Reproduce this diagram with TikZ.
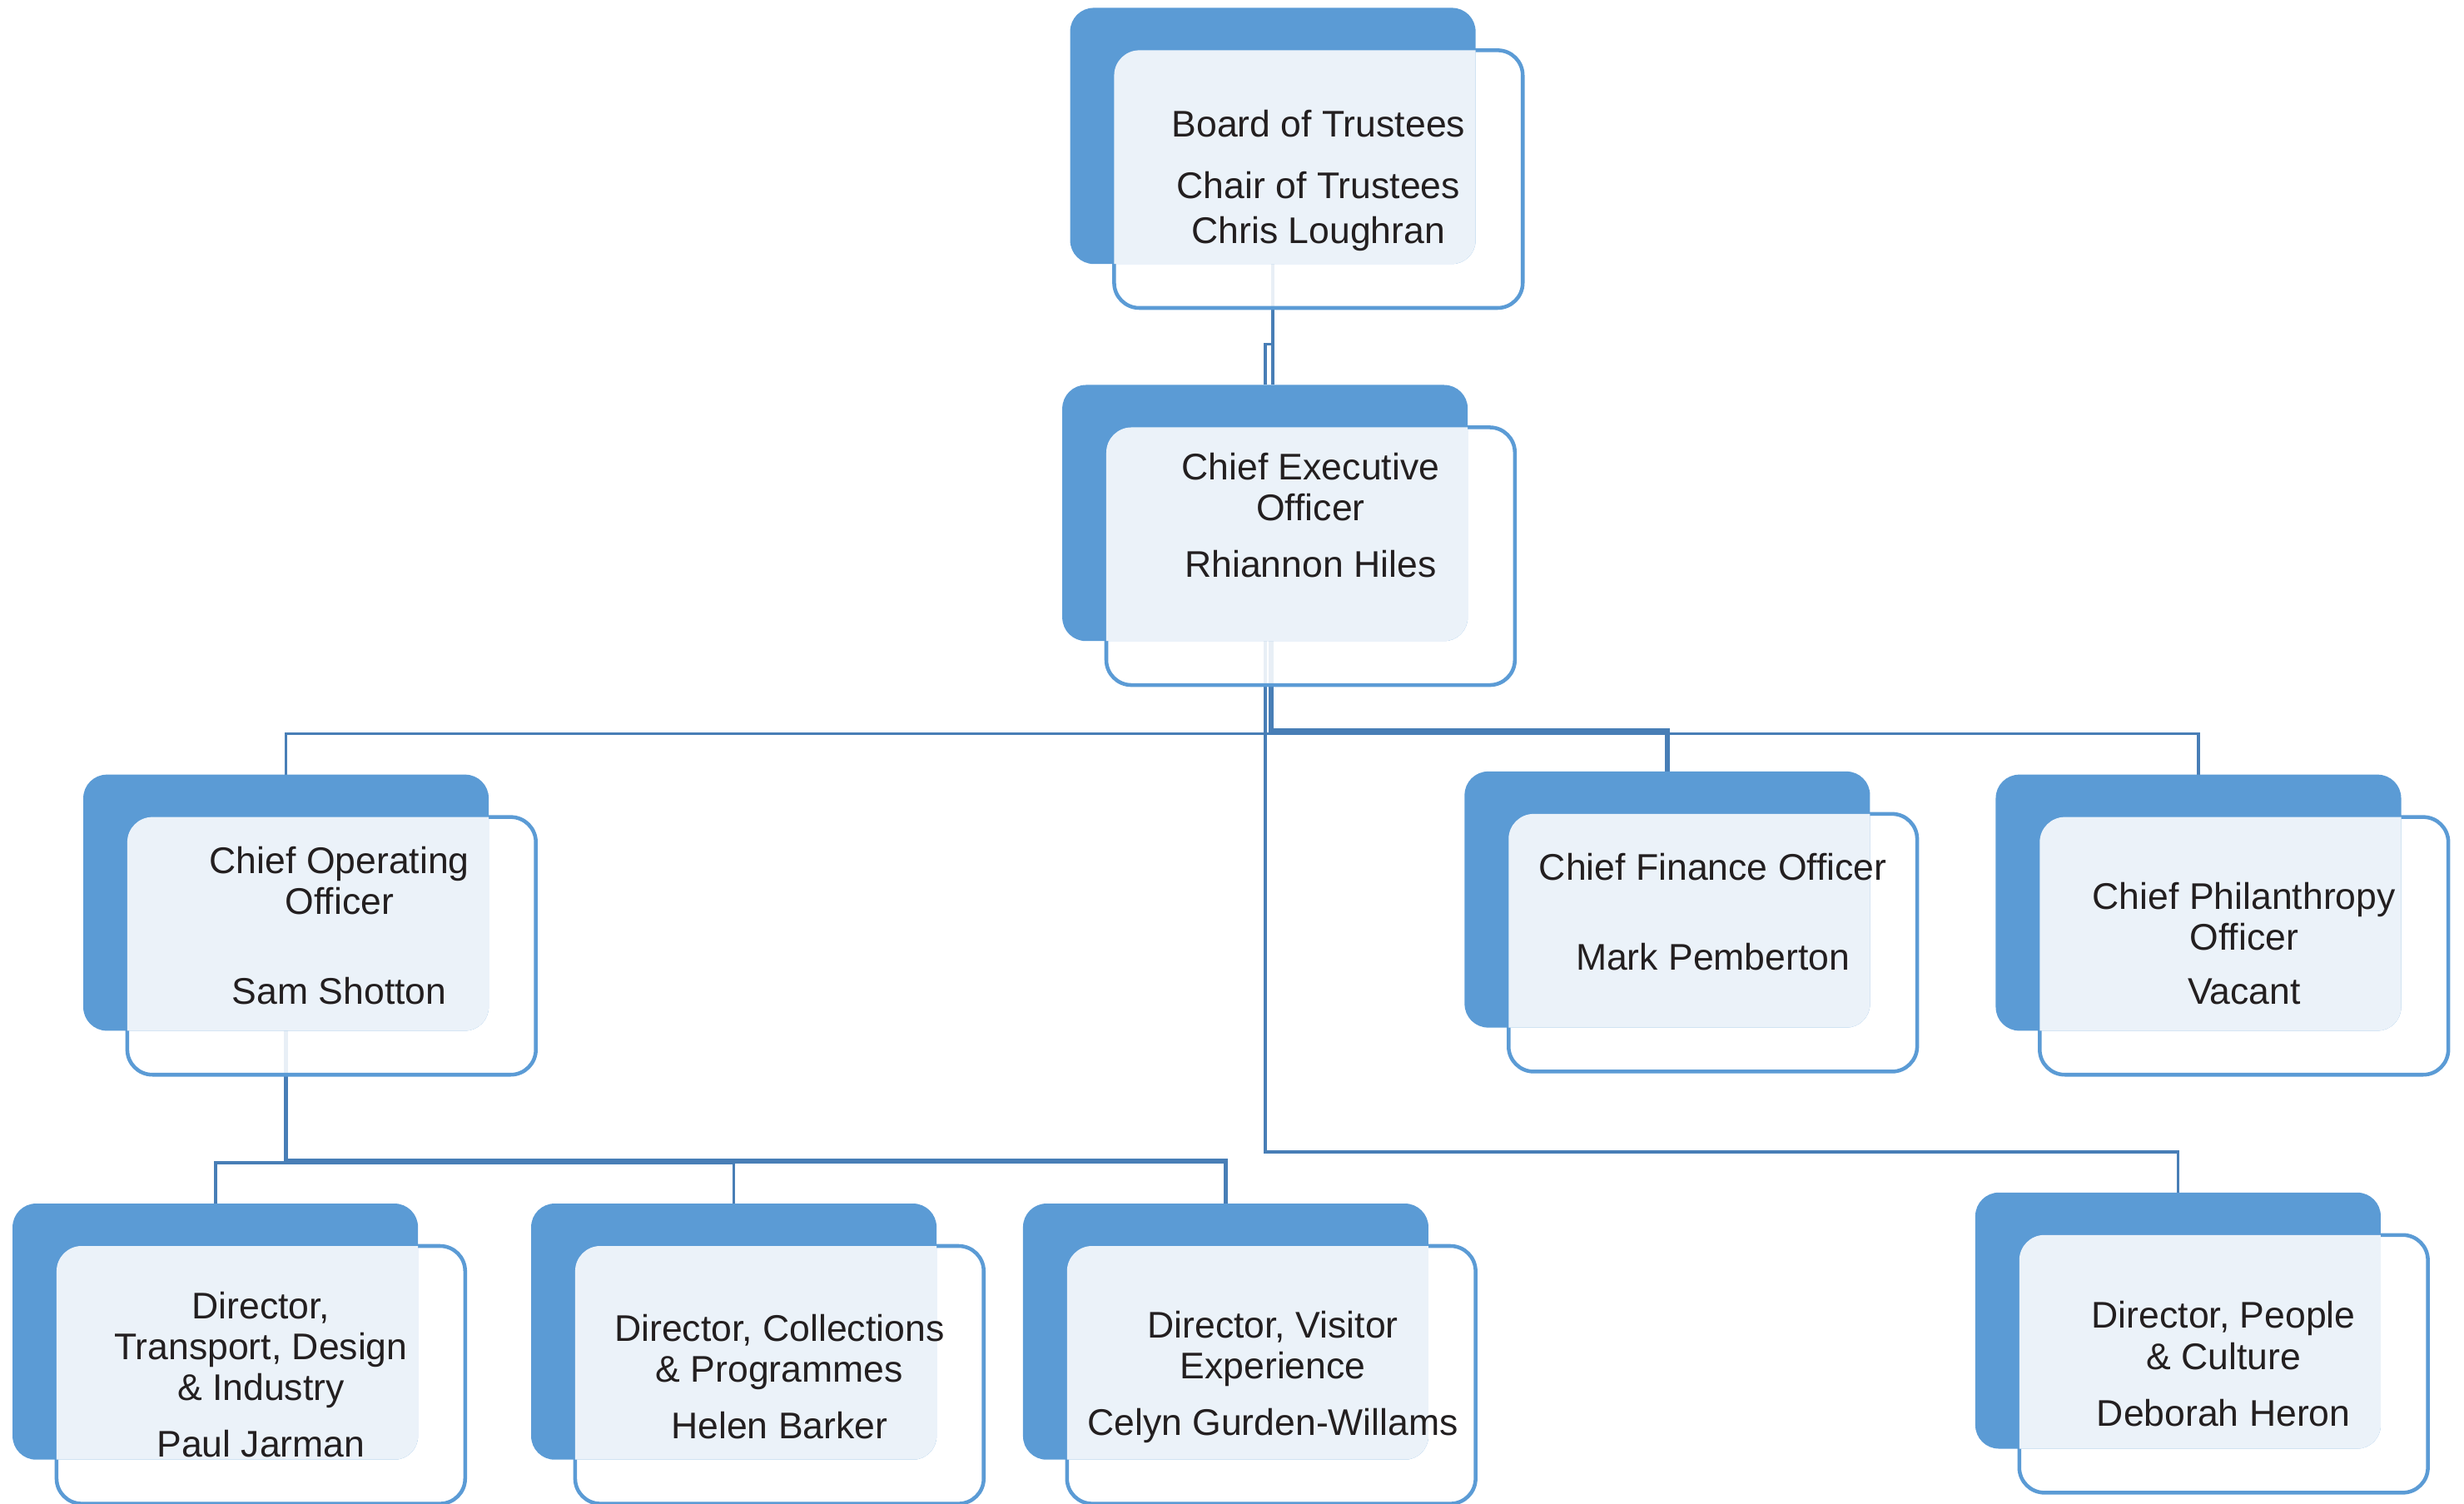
\documentclass[tikz,border=0pt]{standalone}
\usepackage{fontspec}
\setmainfont{Liberation Sans}
\pgfdeclarelayer{bg}
\pgfsetlayers{bg,main}
\definecolor{boxblue}{RGB}{91,155,213}
\definecolor{connblue}{RGB}{72,126,182}
\definecolor{txt}{RGB}{35,31,32}
\tikzset{
 backbox/.style={fill=boxblue, rounded corners=7.5pt, minimum width=129pt, minimum height=81.5pt, inner sep=0pt, outer sep=0pt, anchor=north west},
 frontbox/.style={draw=boxblue, line width=1.2pt, fill=white, fill opacity=0.88, rounded corners=8pt, minimum width=130pt, minimum height=82pt, inner sep=0pt, outer sep=0pt, anchor=north west},
 conn/.style={draw=connblue, line width=1pt},
 connthick/.style={draw=connblue, line width=1.5pt},
 lbl/.style={align=center, text=txt, font=\fontsize{11.8}{13}\selectfont, inner sep=0pt}
}
\newcommand\orgbox[3]{%
 \node[frontbox] (#1F) at (#2+28,#3+27) {};
 \node[backbox] (#1) at (#2,#3) {};
 \begin{scope}
  \clip[rounded corners=7.5pt] (#1.north west) rectangle (#1.south east);
  \fill[white, fill opacity=0.88, rounded corners=8pt] (#1F.north west) rectangle (#1F.south east);
 \end{scope}}
\begin{document}
\begin{tikzpicture}[x=0.5pt,y=-0.5pt]
\useasboundingbox (0,0) rectangle (1568,957);
\orgbox{board}{681}{5}
\orgbox{ceo}{676}{245}
\orgbox{coo}{53}{493}
\orgbox{cfo}{932}{491}
\orgbox{cpo}{1270}{493}
\orgbox{tdi}{8}{766}
\orgbox{cp}{338}{766}
\orgbox{ve}{651}{766}
\orgbox{pc}{1257}{759}

\node[lbl] (boardT) at (839,115) {Board of Trustees\\[6.5pt]Chair of Trustees\\[1.5pt]Chris Loughran};
\node[lbl] (ceoT) at (834,328) {Chief Executive\\Officer\\[5pt]Rhiannon Hiles};
\node[lbl] (cooT) at (216,589) {Chief Operating\\Officer\\[15.5pt]Sam Shotton};
\node[lbl] (cfoT) at (1090,580.5) {Chief Finance Officer\\[15.5pt]Mark Pemberton};
\node[lbl] (cpoT) at (1428,600.5) {Chief Philanthropy\\Officer\\[4pt]Vacant};
\node[lbl] (tdiT) at (166,875) {Director,\\Transport, Design\\\& Industry\\[5pt]Paul Jarman};
\node[lbl] (cpT) at (496,876) {Director, Collections\\\& Programmes\\[5pt]Helen Barker};
\node[lbl] (veT) at (810,876.5) {Director, Visitor\\Experience\\[5pt]Celyn Gurden-Willams};
\node[lbl] (pcT) at (1415,868) {Director, People\\\& Culture\\[5pt]Deborah Heron};

\begin{pgfonlayer}{bg}
\draw[conn] (board.south) -- (board.south |- ceo.north);
\draw[conn] (board.south) -- ++(0,51) -| (ceo.north);
\draw[conn] (ceo.south) -- ++(0,59) -| (coo.north);
\draw[conn] (ceo.south) -- ++(0,59) -| (cpo.north);
\draw[connthick] ([xshift=2pt]ceo.south) -- ++(0,57) -| (cfo.north);
\draw[conn] (ceo.south) -- ++(0,325) -| (pc.north);
\draw[conn] (coo.south) -- ++(0,84) -| (tdi.north);
\draw[conn] (coo.south) -- ++(0,84) -| (cp.north);
\draw[connthick] (coo.south) -- ++(0,83) -| (ve.north);
\end{pgfonlayer}
\end{tikzpicture}
\end{document}
